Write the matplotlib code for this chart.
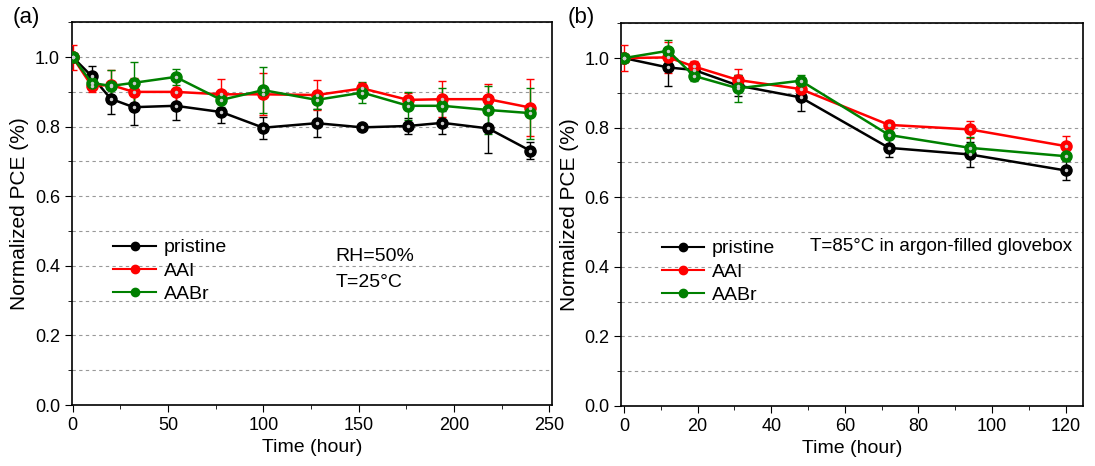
import matplotlib.pyplot as plt
import numpy as np
from matplotlib.ticker import MultipleLocator

plt.rcParams['font.family'] = ['Liberation Sans', 'DejaVu Sans']

# (a) RH=50%, T=25C
t_a = [0, 10, 20, 32, 54, 78, 100, 128, 152, 176, 194, 218, 240]
pri_a = [1.0, 0.945, 0.880, 0.856, 0.860, 0.842, 0.797, 0.810, 0.798, 0.802, 0.811, 0.795, 0.731]
pri_a_err = [0.01, 0.028, 0.044, 0.05, 0.04, 0.032, 0.031, 0.04, 0.008, 0.022, 0.033, 0.07, 0.024]
aai_a = [1.0, 0.917, 0.920, 0.900, 0.900, 0.893, 0.893, 0.891, 0.910, 0.877, 0.879, 0.879, 0.855]
aai_a_err = [0.036, 0.017, 0.043, 0.04, 0.04, 0.043, 0.06, 0.042, 0.016, 0.021, 0.052, 0.043, 0.082]
aabr_a = [1.0, 0.926, 0.917, 0.926, 0.943, 0.877, 0.905, 0.877, 0.898, 0.860, 0.860, 0.848, 0.839]
aabr_a_err = [0.01, 0.01, 0.045, 0.06, 0.022, 0.02, 0.066, 0.025, 0.03, 0.04, 0.05, 0.07, 0.073]

# (b) T=85C in glovebox
t_b = [0, 12, 19, 31, 48, 72, 94, 120]
pri_b = [1.0, 0.973, 0.966, 0.921, 0.887, 0.742, 0.723, 0.677]
pri_b_err = [0.01, 0.054, 0.015, 0.03, 0.038, 0.027, 0.036, 0.026]
aai_b = [1.0, 1.002, 0.976, 0.937, 0.911, 0.808, 0.795, 0.747]
aai_b_err = [0.038, 0.045, 0.015, 0.031, 0.02, 0.012, 0.025, 0.028]
aabr_b = [1.0, 1.021, 0.949, 0.913, 0.935, 0.779, 0.742, 0.718]
aabr_b_err = [0.01, 0.031, 0.015, 0.039, 0.016, 0.012, 0.03, 0.01]

labels = ['pristine', 'AAI', 'AABr']
colors = ['black', 'red', 'green']

fig = plt.figure(figsize=(10.95, 4.66), dpi=100)
ax1 = fig.add_axes([71.7/1095, 1-405/466, (551.7-71.7)/1095, (405-22.3)/466])
ax2 = fig.add_axes([621/1095, 1-406/466, (1083-621)/1095, (406-23.3)/466])


def draw(ax, t, series):
    handles = []
    for (y, e), c, lab in zip(series, colors, labels):
        ax.errorbar(t, y, yerr=e, color=c, ecolor=c, elinewidth=1, capsize=3,
                    capthick=1, lw=1.8, marker='o', ms=8, mec=c, mfc=c, zorder=3)
        ax.plot(t, y, 'o', ms=1.5, color='#cccccc', zorder=4)
        h, = ax.plot([], [], color=c, lw=1.5, marker='o', ms=6, mfc=c, mec=c)
        handles.append(h)
    ax.set_ylim(0, 1.1)
    ax.yaxis.set_major_locator(MultipleLocator(0.2))
    ax.yaxis.set_minor_locator(MultipleLocator(0.1))
    ax.grid(True, which='both', axis='y', ls=(0, (3, 3)), color='#999999', lw=0.8)
    ax.set_axisbelow(True)
    ax.tick_params(which='both', direction='out', top=False, right=False, labelsize=13)
    ax.tick_params(which='major', length=5)
    ax.tick_params(which='minor', length=3)
    ax.set_xlabel('Time (hour)', fontsize=14)
    ax.set_ylabel('Normalized PCE (%)', fontsize=15)
    for s in ax.spines.values():
        s.set_linewidth(1.2)
    return handles


h = draw(ax1, t_a, [(pri_a, pri_a_err), (aai_a, aai_a_err), (aabr_a, aabr_a_err)])
ax1.set_xlim(-0.5, 251.3)
ax1.xaxis.set_major_locator(MultipleLocator(50))
ax1.xaxis.set_minor_locator(MultipleLocator(25))
ax1.legend(h, labels, loc='upper left', bbox_to_anchor=(0.05, 0.48), frameon=False,
           fontsize=14, handlelength=2.2, labelspacing=0.3, handletextpad=0.4)
ax1.text(0.549, 0.41, 'RH=50%\nT=25\u00b0C', transform=ax1.transAxes, fontsize=14,
         va='top', linespacing=1.65)
fig.text(13/1095, 1-18/466, '(a)', fontsize=16, va='center')

h = draw(ax2, t_b, [(pri_b, pri_b_err), (aai_b, aai_b_err), (aabr_b, aabr_b_err)])
ax2.set_xlim(-0.8, 124.7)
ax2.xaxis.set_major_locator(MultipleLocator(20))
ax2.xaxis.set_minor_locator(MultipleLocator(10))
ax2.legend(h, labels, loc='upper left', bbox_to_anchor=(0.05, 0.48), frameon=False,
           fontsize=14, handlelength=2.2, labelspacing=0.3, handletextpad=0.4)
ax2.text(0.41, 0.44, 'T=85\u00b0C in argon-filled glovebox', transform=ax2.transAxes,
         fontsize=13.5, va='top')
fig.text(568/1095, 1-18/466, '(b)', fontsize=16, va='center')

fig.savefig('out.png', dpi=100)
